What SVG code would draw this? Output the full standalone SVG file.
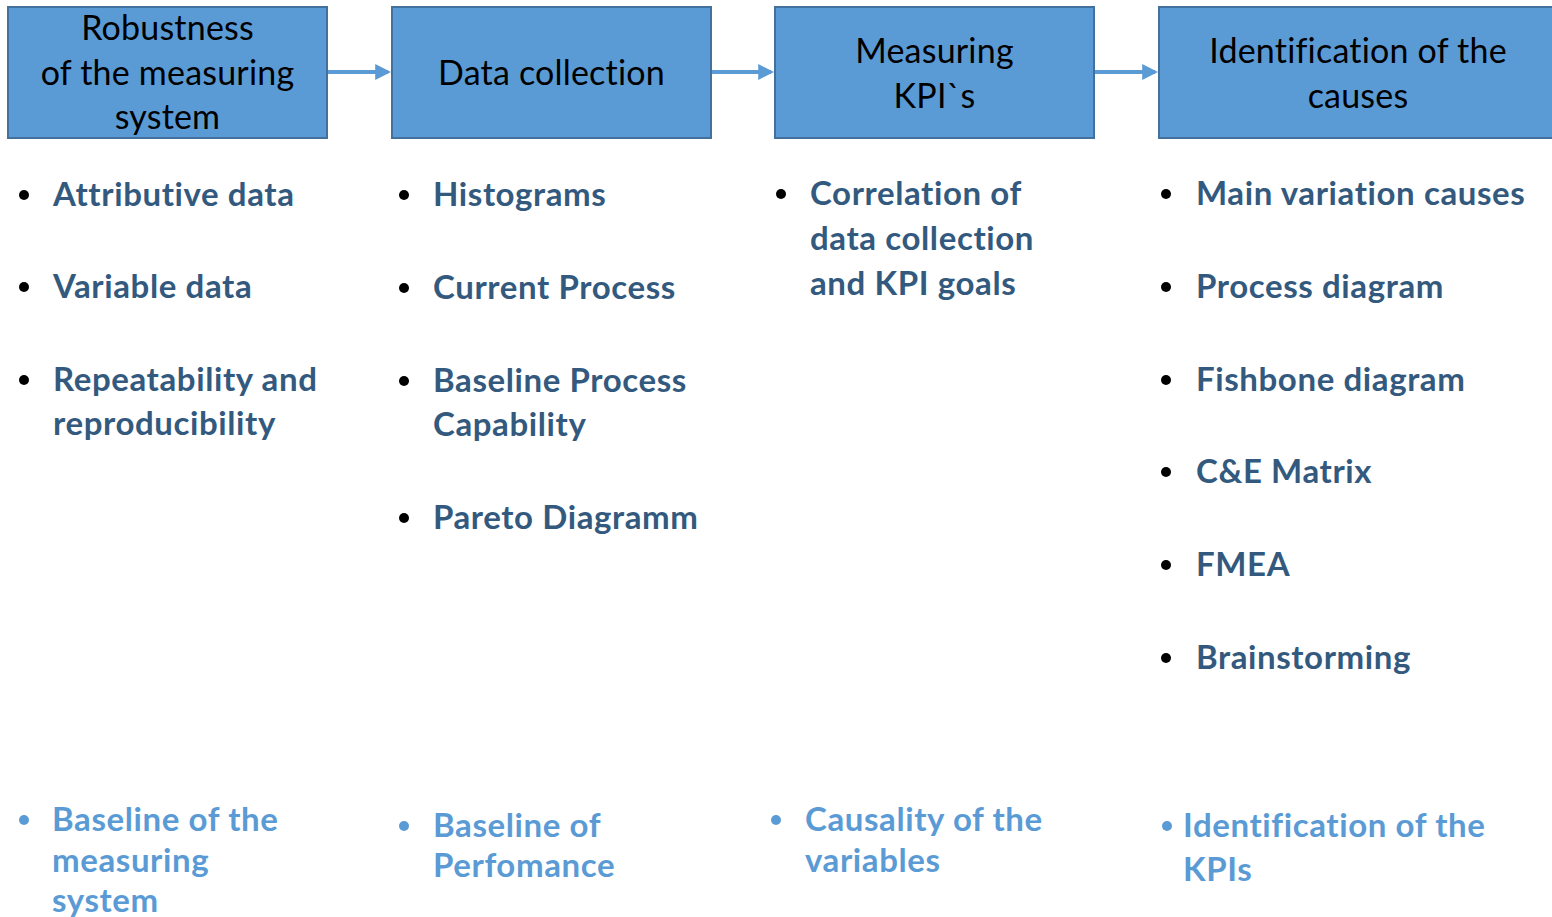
<svg xmlns="http://www.w3.org/2000/svg" width="1552" height="917" viewBox="0 0 1552 917">
<style>
.box{fill:#5B9BD5;stroke:#41719C;stroke-width:2}
.bt{font-family:Lato,"Liberation Sans",sans-serif;font-size:34px;letter-spacing:0.2px;fill:#000;text-anchor:middle}
.it{font-family:Lato,"Liberation Sans",sans-serif;font-size:33px;letter-spacing:0.6px;font-weight:bold;fill:#335A7E}
.bl{font-family:Lato,"Liberation Sans",sans-serif;font-size:33px;letter-spacing:0.6px;font-weight:bold;fill:#5B9BD5}
.dot{fill:#000}
.ldot{fill:#5B9BD5}
.con{stroke:#5B9BD5;stroke-width:4;fill:none}
</style>
<defs>
<marker id="ah" markerWidth="4" markerHeight="4" refX="3.2" refY="2" orient="auto" markerUnits="strokeWidth">
<path d="M0,0 L4,2 L0,4 Z" fill="#5B9BD5"/>
</marker>
</defs>
<rect width="1552" height="917" fill="#fff"/>
<g id="connectors">
<line class="con" x1="328" y1="72" x2="388" y2="72" marker-end="url(#ah)"/>
<line class="con" x1="712" y1="72" x2="771" y2="72" marker-end="url(#ah)"/>
<line class="con" x1="1095" y1="72" x2="1155" y2="72" marker-end="url(#ah)"/>
</g>
<g id="node1">
<rect class="box" x="8" y="7" width="319" height="131"/>
<text class="bt" x="167.5" y="40">Robustness</text>
<text class="bt" x="167.5" y="85">of the measuring</text>
<text class="bt" x="167.5" y="129">system</text>
</g>
<g id="node2">
<rect class="box" x="392" y="7" width="319" height="131"/>
<text class="bt" x="551.5" y="85">Data collection</text>
</g>
<g id="node3">
<rect class="box" x="775" y="7" width="319" height="131"/>
<text class="bt" x="934.5" y="63">Measuring</text>
<text class="bt" x="934.5" y="108">KPI`s</text>
</g>
<g id="node4">
<rect class="box" x="1159" y="7" width="400" height="131"/>
<text class="bt" x="1358" y="63">Identification of the</text>
<text class="bt" x="1358" y="108">causes</text>
</g>
<g id="list1">
<circle class="dot" cx="24" cy="195" r="5"/>
<text class="it" x="53" y="206">Attributive data</text>
<circle class="dot" cx="24" cy="287" r="5"/>
<text class="it" x="53" y="298">Variable data</text>
<circle class="dot" cx="24" cy="380" r="5"/>
<text class="it" x="53" y="391">Repeatability and</text>
<text class="it" x="53" y="435">reproducibility</text>
</g>
<g id="list2">
<circle class="dot" cx="404" cy="195" r="5"/>
<text class="it" x="433" y="206">Histograms</text>
<circle class="dot" cx="404" cy="288" r="5"/>
<text class="it" x="433" y="299">Current Process</text>
<circle class="dot" cx="404" cy="381" r="5"/>
<text class="it" x="433" y="392">Baseline Process</text>
<text class="it" x="433" y="436">Capability</text>
<circle class="dot" cx="404" cy="518" r="5"/>
<text class="it" x="433" y="529">Pareto Diagramm</text>
</g>
<g id="list3">
<circle class="dot" cx="781" cy="194" r="5"/>
<text class="it" x="810" y="205">Correlation of</text>
<text class="it" x="810" y="250">data collection</text>
<text class="it" x="810" y="295">and KPI goals</text>
</g>
<g id="list4">
<circle class="dot" cx="1166" cy="194" r="5"/>
<text class="it" x="1196" y="205">Main variation causes</text>
<circle class="dot" cx="1166" cy="287" r="5"/>
<text class="it" x="1196" y="298">Process diagram</text>
<circle class="dot" cx="1166" cy="380" r="5"/>
<text class="it" x="1196" y="391">Fishbone diagram</text>
<circle class="dot" cx="1166" cy="472" r="5"/>
<text class="it" x="1196" y="483">C&amp;E Matrix</text>
<circle class="dot" cx="1166" cy="565" r="5"/>
<text class="it" x="1196" y="576">FMEA</text>
<circle class="dot" cx="1166" cy="658" r="5"/>
<text class="it" x="1196" y="669">Brainstorming</text>
</g>
<g id="outcome1">
<circle class="ldot" cx="24" cy="820" r="5"/>
<text class="bl" x="52" y="831">Baseline of the</text>
<text class="bl" x="52" y="872">measuring</text>
<text class="bl" x="52" y="912">system</text>
</g>
<g id="outcome2">
<circle class="ldot" cx="404" cy="826" r="5"/>
<text class="bl" x="433" y="837">Baseline of</text>
<text class="bl" x="433" y="877">Perfomance</text>
</g>
<g id="outcome3">
<circle class="ldot" cx="776" cy="820" r="5"/>
<text class="bl" x="805" y="831">Causality of the</text>
<text class="bl" x="805" y="872">variables</text>
</g>
<g id="outcome4">
<circle class="ldot" cx="1167" cy="826" r="5"/>
<text class="bl" x="1183" y="837">Identification of the</text>
<text class="bl" x="1183" y="881">KPIs</text>
</g>
</svg>
